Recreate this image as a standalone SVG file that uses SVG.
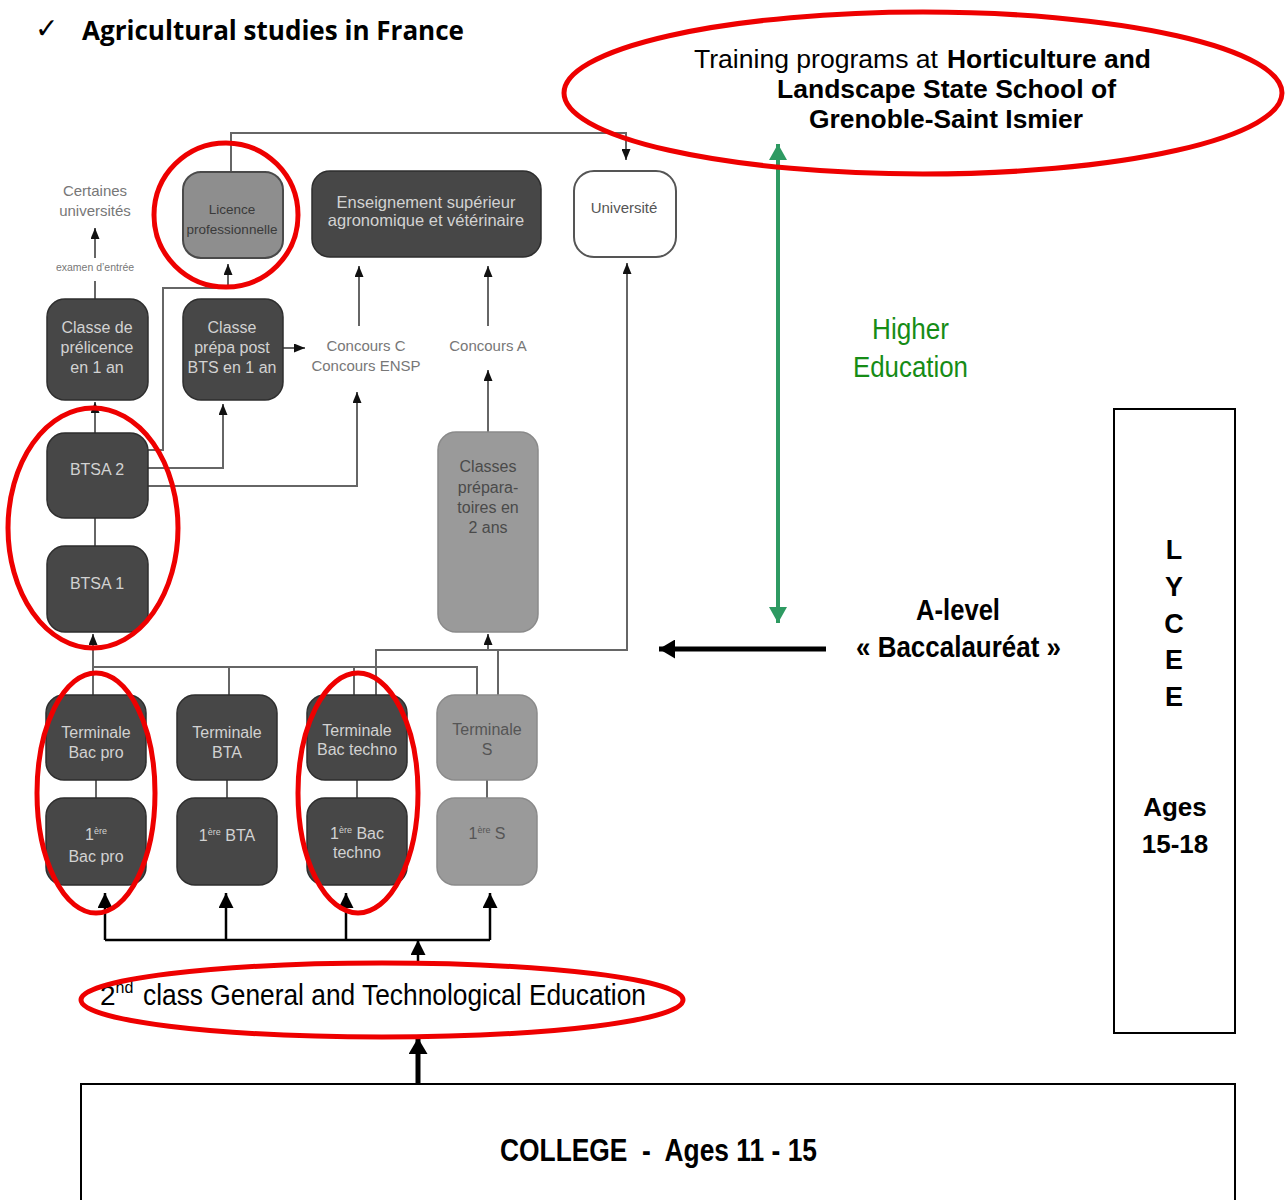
<svg xmlns="http://www.w3.org/2000/svg" width="1287" height="1200" viewBox="0 0 1287 1200">
<defs>
<style>
.bd{fill:#474747;stroke:#2e2e2e;stroke-width:1.5}
.bl{fill:#9a9a9a;stroke:#8a8a8a;stroke-width:1.5}
.tl{font-family:"Liberation Sans",Arial,sans-serif;font-size:16px;fill:#d2d2d2;text-anchor:middle}
.tg{font-family:"Liberation Sans",Arial,sans-serif;font-size:16px;fill:#4a4a4a;text-anchor:middle}
.tc{font-family:"Liberation Sans",Arial,sans-serif;font-size:15px;fill:#777;text-anchor:middle}
.cn{fill:none;stroke:#666;stroke-width:2}
.ck{fill:none;stroke:#000;stroke-width:2.5}
.red{fill:none;stroke:#ee0000;stroke-width:5}
.nar{font-family:"Liberation Sans",Arial,sans-serif;fill:#000}
.sup{font-size:9px}
</style>
<marker id="ag" markerUnits="userSpaceOnUse" markerWidth="11" markerHeight="9" refX="11" refY="4.5" orient="auto"><path d="M0,0 L11,4.5 L0,9 z" fill="#111"/></marker>
<marker id="ab" markerUnits="userSpaceOnUse" markerWidth="15" markerHeight="15" refX="15" refY="7.5" orient="auto"><path d="M0,0 L15,7.5 L0,15 z" fill="#000"/></marker>
<marker id="abig" markerUnits="userSpaceOnUse" markerWidth="16" markerHeight="19" refX="16" refY="9.5" orient="auto"><path d="M0,0 L16,9.5 L0,19 z" fill="#000"/></marker>
<marker id="agr" markerUnits="userSpaceOnUse" markerWidth="16" markerHeight="18" refX="16" refY="9" orient="auto-start-reverse"><path d="M0,0 L16,9 L0,18 z" fill="#2e9a62"/></marker>
</defs>
<rect width="1287" height="1200" fill="#fff"/>

<!-- title -->
<g id="title">
<text x="35" y="38" font-family="DejaVu Sans,sans-serif" font-size="28" fill="#000">✓</text>
<text x="82" y="40" font-family="Open Sans,Liberation Sans,sans-serif" font-size="26" font-weight="bold" fill="#000" textLength="382" lengthAdjust="spacingAndGlyphs">Agricultural studies in France</text>
</g>

<!-- connectors -->
<g id="connectors">
<path class="cn" d="M231 172 V133 H626 V160" marker-end="url(#ag)"/>
<path class="cn" d="M95 299 V281"/>
<path class="cn" d="M95 258 V228" marker-end="url(#ag)"/>
<path class="cn" d="M95 433 V402" marker-end="url(#ag)"/>
<path class="cn" d="M148 450 H163 V288 H228 V264" marker-end="url(#ag)"/>
<path class="cn" d="M148 468 H223 V404" marker-end="url(#ag)"/>
<path class="cn" d="M148 486 H357 V392" marker-end="url(#ag)"/>
<path class="cn" d="M283 348 H305" marker-end="url(#ag)"/>
<path class="cn" d="M359 326 V266" marker-end="url(#ag)"/>
<path class="cn" d="M488 326 V266" marker-end="url(#ag)"/>
<path class="cn" d="M488 432 V370" marker-end="url(#ag)"/>
<path class="cn" d="M95 518 V546"/>
<path class="cn" d="M93 667 V634" marker-end="url(#ag)"/>
<path class="cn" d="M93 695 V667 H477 V695 M229 667 V695 M354 667 V695"/>
<path class="cn" d="M376 695 V650 H627 V263" marker-end="url(#ag)"/>
<path class="cn" d="M498 695 V650"/>
<path class="cn" d="M488 650 V634" marker-end="url(#ag)"/>
<path class="cn" d="M96 780 V798 M227 780 V798 M357 780 V798 M487 780 V798"/>
<path class="ck" d="M105 940 H490"/>
<path class="ck" d="M105 940 V893" marker-end="url(#ab)"/>
<path class="ck" d="M226 940 V893" marker-end="url(#ab)"/>
<path class="ck" d="M346 940 V893" marker-end="url(#ab)"/>
<path class="ck" d="M490 940 V893" marker-end="url(#ab)"/>
<path class="ck" d="M418 962 V940" marker-end="url(#ab)"/>
<path fill="none" stroke="#000" stroke-width="5" d="M418 1084 V1038" marker-end="url(#abig)"/>
<path fill="none" stroke="#000" stroke-width="5" d="M826 649 H659" marker-end="url(#abig)"/>
<path fill="none" stroke="#2e9a62" stroke-width="4" d="M778 144 V623" marker-start="url(#agr)" marker-end="url(#agr)"/>
</g>

<!-- nodes -->
<g id="certaines">
<text class="tc" x="95" y="196" fill="#666">Certaines</text>
<text class="tc" x="95" y="216" fill="#666">universités</text>
<text class="tc" x="95" y="271" style="font-size:10.5px">examen d’entrée</text>
</g>
<g id="licence">
<rect x="183" y="172" width="100" height="86" rx="18" fill="#8e8e8e" stroke="#4a4a4a" stroke-width="2"/>
<text class="tg" x="232" y="214" style="font-size:13.5px;fill:#3a3a3a">Licence</text>
<text class="tg" x="232" y="234" style="font-size:13.5px;fill:#3a3a3a">professionnelle</text>
</g>
<g id="enseignement">
<rect class="bd" x="312" y="171" width="229" height="86" rx="18"/>
<text class="tl" x="426" y="208" style="font-size:16.5px">Enseignement supérieur</text>
<text class="tl" x="426" y="226" style="font-size:16.5px">agronomique et vétérinaire</text>
</g>
<g id="universite">
<rect x="574" y="171" width="102" height="86" rx="20" fill="#fff" stroke="#555" stroke-width="2"/>
<text class="tg" x="624" y="213" style="font-size:15px;fill:#555">Université</text>
</g>
<g id="prelicence">
<rect class="bd" x="47" y="299" width="101" height="101" rx="18"/>
<text class="tl" x="97" y="333">Classe de</text>
<text class="tl" x="97" y="353">prélicence</text>
<text class="tl" x="97" y="373">en 1 an</text>
</g>
<g id="prepa-bts">
<rect class="bd" x="183" y="299" width="100" height="101" rx="18"/>
<text class="tl" x="232" y="333">Classe</text>
<text class="tl" x="232" y="353">prépa post</text>
<text class="tl" x="232" y="373">BTS en  1 an</text>
</g>
<g id="concours-c">
<text class="tc" x="366" y="351">Concours C</text>
<text class="tc" x="366" y="371">Concours ENSP</text>
</g>
<g id="concours-a">
<text class="tc" x="488" y="351">Concours A</text>
</g>
<g id="btsa2">
<rect class="bd" x="47" y="433" width="101" height="85" rx="18"/>
<text class="tl" x="97" y="475">BTSA  2</text>
</g>
<g id="btsa1">
<rect class="bd" x="47" y="546" width="101" height="86" rx="18"/>
<text class="tl" x="97" y="589">BTSA  1</text>
</g>
<g id="classes-prepa">
<rect class="bl" x="438" y="432" width="100" height="200" rx="18"/>
<text class="tg" x="488" y="472">Classes</text>
<text class="tg" x="488" y="493">prépara-</text>
<text class="tg" x="488" y="513">toires en</text>
<text class="tg" x="488" y="533">2 ans</text>
</g>
<g id="term-bacpro">
<rect class="bd" x="46" y="695" width="100" height="85" rx="18"/>
<text class="tl" x="96" y="738">Terminale</text>
<text class="tl" x="96" y="758">Bac pro</text>
</g>
<g id="term-bta">
<rect class="bd" x="177" y="695" width="100" height="85" rx="18"/>
<text class="tl" x="227" y="738">Terminale</text>
<text class="tl" x="227" y="758">BTA</text>
</g>
<g id="term-bactechno">
<rect class="bd" x="307" y="695" width="100" height="85" rx="18"/>
<text class="tl" x="357" y="736">Terminale</text>
<text class="tl" x="357" y="755">Bac techno</text>
</g>
<g id="term-s">
<rect class="bl" x="437" y="695" width="100" height="85" rx="18"/>
<text class="tg" x="487" y="735" style="fill:#555">Terminale</text>
<text class="tg" x="487" y="755" style="fill:#555">S</text>
</g>
<g id="premiere-bacpro">
<rect class="bd" x="46" y="798" width="100" height="87" rx="18"/>
<text class="tl" x="96" y="840">1<tspan class="sup" dy="-6">ère</tspan></text>
<text class="tl" x="96" y="862">Bac pro</text>
</g>
<g id="premiere-bta">
<rect class="bd" x="177" y="798" width="100" height="87" rx="18"/>
<text class="tl" x="227" y="841">1<tspan class="sup" dy="-6">ère</tspan><tspan dy="6"> BTA</tspan></text>
</g>
<g id="premiere-bactechno">
<rect class="bd" x="307" y="798" width="100" height="87" rx="18"/>
<text class="tl" x="357" y="839">1<tspan class="sup" dy="-6">ère</tspan><tspan dy="6"> Bac</tspan></text>
<text class="tl" x="357" y="858">techno</text>
</g>
<g id="premiere-s">
<rect class="bl" x="437" y="798" width="100" height="87" rx="18"/>
<text class="tg" x="487" y="839" style="fill:#555">1<tspan class="sup" dy="-6">ère</tspan><tspan dy="6"> S</tspan></text>
</g>

<!-- right side labels -->
<g id="training">
<text class="nar" x="694" y="68" font-size="26" textLength="244" lengthAdjust="spacingAndGlyphs">Training programs at</text>
<text class="nar" x="947" y="68" font-size="26" font-weight="bold" textLength="204" lengthAdjust="spacingAndGlyphs">Horticulture and</text>
<text class="nar" x="777" y="98" font-size="26" font-weight="bold" textLength="339" lengthAdjust="spacingAndGlyphs">Landscape State School of</text>
<text class="nar" x="809" y="128" font-size="26" font-weight="bold" textLength="274" lengthAdjust="spacingAndGlyphs">Grenoble-Saint Ismier</text>
</g>
<g id="higher-education">
<text class="nar" x="872" y="339" font-size="30" style="fill:#168c16" textLength="77" lengthAdjust="spacingAndGlyphs">Higher</text>
<text class="nar" x="853" y="377" font-size="30" style="fill:#168c16" textLength="115" lengthAdjust="spacingAndGlyphs">Education</text>
</g>
<g id="a-level">
<text class="nar" x="916" y="620" font-size="30" font-weight="bold" textLength="84" lengthAdjust="spacingAndGlyphs">A-level</text>
<text class="nar" x="856" y="657" font-size="30" font-weight="bold" textLength="205" lengthAdjust="spacingAndGlyphs">« Baccalauréat »</text>
</g>
<g id="lycee">
<rect x="1114" y="409" width="121" height="624" fill="none" stroke="#000" stroke-width="2"/>
<g font-family="Liberation Sans,Arial,sans-serif" font-weight="bold" font-size="27" text-anchor="middle" fill="#000">
<text x="1174" y="559">L</text>
<text x="1174" y="596">Y</text>
<text x="1174" y="633">C</text>
<text x="1174" y="669">E</text>
<text x="1174" y="706">E</text>
<text x="1175" y="816" font-size="26">Ages</text>
<text x="1175" y="853" font-size="26">15-18</text>
</g>
</g>
<g id="second-class">
<text class="nar" x="100" y="1005" font-size="28">2<tspan font-size="16" dy="-12">nd</tspan></text>
<text class="nar" x="143" y="1005" font-size="30" textLength="503" lengthAdjust="spacingAndGlyphs">class General and Technological Education</text>
</g>
<g id="college">
<rect x="81" y="1084" width="1154" height="130" fill="none" stroke="#000" stroke-width="2"/>
<text class="nar" x="500" y="1161" font-size="32" font-weight="bold" textLength="317" lengthAdjust="spacingAndGlyphs" xml:space="preserve">COLLEGE  -  Ages 11 - 15</text>
</g>

<!-- red highlight ellipses -->
<g id="highlights">
<ellipse class="red" cx="923" cy="93" rx="359" ry="81"/>
<ellipse class="red" cx="226" cy="215" rx="72" ry="72"/>
<ellipse class="red" cx="93" cy="528" rx="85" ry="120"/>
<ellipse class="red" cx="96" cy="793" rx="59" ry="120"/>
<ellipse class="red" cx="358" cy="793" rx="60" ry="120"/>
<ellipse class="red" cx="382" cy="1000" rx="301" ry="37"/>
</g>
</svg>
